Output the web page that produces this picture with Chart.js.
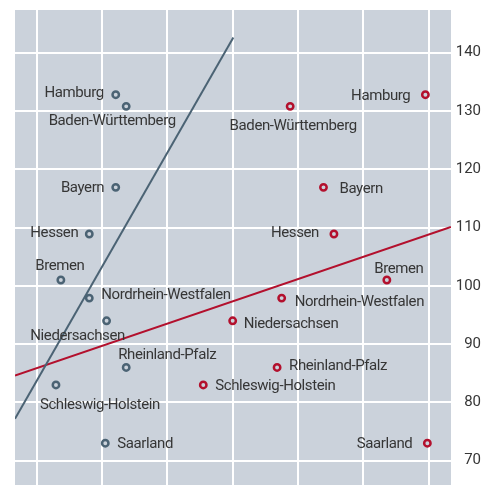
<!DOCTYPE html>
<html>
<head>
<meta charset="utf-8">
<script src="https://cdn.jsdelivr.net/npm/chart.js@4/dist/chart.umd.min.js"></script>
<style>
  html, body { margin: 0; padding: 0; background: #ffffff; overflow: hidden; }
  #wrap { width: 494px; height: 485px; position: relative; }
</style>
</head>
<body>
<div id="wrap"><canvas id="c"></canvas></div>
<script>
// ---- data ----
const states = ["Hamburg", "Baden-Württemberg", "Bayern", "Hessen", "Bremen",
  "Nordrhein-Westfalen", "Niedersachsen", "Rheinland-Pfalz", "Schleswig-Holstein", "Saarland"];
const yValues = [132.8, 130.8, 116.9, 108.9, 101.0, 97.9, 94.0, 86.0, 83.0, 73.0];
const xDark = [12.1, 13.7, 12.1, 8.05, 3.7, 8.05, 10.7, 13.7, 2.95, 10.5];
const xRed = [59.5, 38.8, 43.9, 45.5, 53.6, 37.5, 30.0, 36.8, 25.5, 59.8];
const trendDarkX = [-3.32, 30.1];
const trendDarkY = [77.2, 142.6];
const trendRedX = [-3.32, 63.4];
const trendRedY = [84.6, 110.1];
const yTickLabels = [70, 80, 90, 100, 110, 120, 130, 140];
const xGridValues = [0, 10, 20, 30, 40, 50, 60];

// ---- label placement (layout only): [dx, dy, align] ----
const darkLabelPos = [
  [-12, -3, 'right'], [-14, 13, 'center'], [-11.5, -1, 'right'], [-11, -2, 'right'],
  [-1, -15, 'center'], [12, -4, 'left'], [-29, 14, 'center'], [41, -14, 'center'],
  [44, 19, 'center'], [12, 0, 'left']
];
const redLabelPos = [
  [-15, 0, 'right'], [3, 18, 'center'], [16, 0, 'left'], [-15, -2, 'right'],
  [12, -12, 'center'], [13, 3, 'left'], [11, 2, 'left'], [12, -3, 'left'],
  [12, 0, 'left'], [-15, 0, 'right']
];
const LABEL_NUDGE_Y = 1.5;

const DARK = '#4b6374';
const RED = '#b3102d';
const BG = '#cbd2db';
const TEXT = '#363636';
const FAMILY = 'Roboto, "Liberation Sans", sans-serif';
const FONT = '15px ' + FAMILY;

const pts = (xs, ys) => xs.map((x, i) => ({ x: x, y: ys[i] }));

const bgPlugin = {
  id: 'bg',
  beforeDraw(chart) {
    const a = chart.chartArea, ctx = chart.ctx;
    ctx.save();
    ctx.fillStyle = BG;
    ctx.fillRect(a.left, a.top, a.right - a.left, a.bottom - a.top);
    ctx.restore();
  }
};

const labelPlugin = {
  id: 'labels',
  afterDatasetsDraw(chart) {
    const ctx = chart.ctx;
    ctx.save();
    ctx.font = FONT;
    if ('letterSpacing' in ctx) ctx.letterSpacing = '-0.4px';
    ctx.fillStyle = TEXT;
    ctx.textBaseline = 'middle';
    [[2, darkLabelPos], [3, redLabelPos]].forEach(([dsIndex, pos]) => {
      const meta = chart.getDatasetMeta(dsIndex);
      meta.data.forEach((el, i) => {
        const p = pos[i];
        ctx.textAlign = p[2];
        ctx.fillText(states[i], el.x + p[0], el.y + p[1] + LABEL_NUDGE_Y);
      });
    });
    ctx.restore();
  }
};

new Chart(document.getElementById('c'), {
  type: 'scatter',
  data: {
    datasets: [
      { data: pts(trendDarkX, trendDarkY), showLine: true, borderColor: DARK, borderWidth: 2,
        pointRadius: 0, pointHoverRadius: 0, fill: false },
      { data: pts(trendRedX, trendRedY), showLine: true, borderColor: RED, borderWidth: 2,
        pointRadius: 0, pointHoverRadius: 0, fill: false },
      { data: pts(xDark, yValues), borderColor: DARK, backgroundColor: BG, borderWidth: 2.5,
        pointRadius: 3.2, pointHoverRadius: 3.2 },
      { data: pts(xRed, yValues), borderColor: RED, backgroundColor: BG, borderWidth: 2.5,
        pointRadius: 3.2, pointHoverRadius: 3.2 }
    ]
  },
  options: {
    responsive: true,
    maintainAspectRatio: false,
    animation: false,
    layout: { autoPadding: false, padding: { left: 15, top: 10, right: 13, bottom: 0 } },
    plugins: { legend: { display: false }, tooltip: { enabled: false } },
    scales: {
      x: {
        type: 'linear',
        min: -3.32, max: 63.42,
        afterBuildTicks: s => { s.ticks = xGridValues.map(v => ({ value: v })); },
        afterFit: s => { s.height = 0; s.paddingLeft = 0; s.paddingRight = 0; },
        ticks: { display: false },
        grid: { color: '#ffffff', lineWidth: 2, drawTicks: false },
        border: { display: false }
      },
      y: {
        type: 'linear',
        position: 'right',
        min: 65.83, max: 147.33,
        afterBuildTicks: s => { s.ticks = yTickLabels.map(v => ({ value: v })); },
        afterFit: s => { s.width = 30; s.paddingTop = 0; s.paddingBottom = 0; },
        ticks: {
          color: TEXT,
          font: { family: FAMILY, size: 15 },
          crossAlign: 'far',
          padding: 4,
          callback: v => String(v)
        },
        grid: { color: '#ffffff', lineWidth: 2, drawTicks: false },
        border: { display: false }
      }
    }
  },
  plugins: [bgPlugin, labelPlugin]
});
</script>
</body>
</html>
